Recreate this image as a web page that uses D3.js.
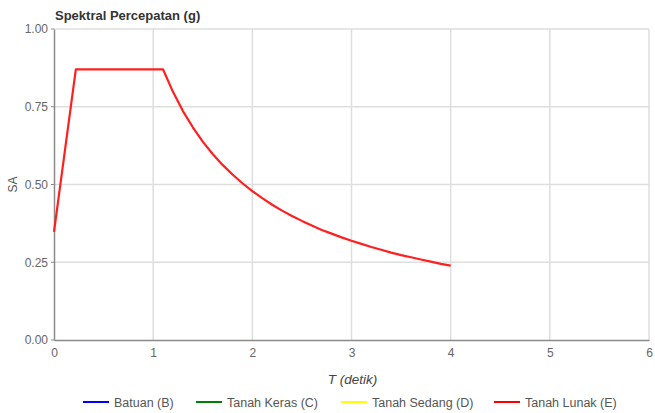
<!DOCTYPE html>
<html>
<head>
<meta charset="utf-8">
<script src="https://cdn.jsdelivr.net/npm/d3@7"></script>
<style>
html,body{margin:0;padding:0;background:#fff;}
svg{display:block;font-family:"Liberation Sans",Arial,sans-serif;}
</style>
</head>
<body>
<svg id="chart" width="655" height="413"></svg>
<script>
const seriesNames = ["Batuan (B)", "Tanah Keras (C)", "Tanah Sedang (D)", "Tanah Lunak (E)"];
const seriesColors = ["#0000ff", "#008000", "#ffff00", "#ff0000"];
// Only Tanah Lunak (E) is drawn in the reference
const periodE = [0, 0.22, 1.1, 1.2, 1.3, 1.4, 1.5, 1.6, 1.7, 1.8, 1.9, 2.0, 2.1, 2.2, 2.3, 2.4, 2.5, 2.6, 2.7, 2.8, 2.9, 3.0, 3.1, 3.2, 3.3, 3.4, 3.5, 3.6, 3.7, 3.8, 3.9, 4.0];
const saE = [0.348, 0.87, 0.87, 0.798, 0.736, 0.684, 0.638, 0.598, 0.563, 0.532, 0.504, 0.479, 0.456, 0.435, 0.416, 0.399, 0.383, 0.368, 0.354, 0.342, 0.330, 0.319, 0.309, 0.299, 0.290, 0.281, 0.273, 0.266, 0.259, 0.252, 0.245, 0.239];
const xTicks = [0, 1, 2, 3, 4, 5, 6];
const yTicks = [0, 0.25, 0.5, 0.75, 1.0];

const svg = d3.select("#chart");
const mLeft = 54, mRight = 649, mTop = 29, mBottom = 340;
const x = d3.scaleLinear().domain([0, 6]).range([mLeft, mRight]);
const y = d3.scaleLinear().domain([0, 1]).range([mBottom, mTop]);

// grid
svg.append("g").selectAll("line").data(xTicks.slice(1)).join("line")
  .attr("x1", d => x(d)).attr("x2", d => x(d)).attr("y1", mTop).attr("y2", mBottom)
  .attr("stroke", "#dedede").attr("stroke-width", 1.5);
svg.append("g").selectAll("line").data(yTicks.slice(1)).join("line")
  .attr("x1", mLeft).attr("x2", mRight).attr("y1", d => y(d)).attr("y2", d => y(d))
  .attr("stroke", "#dedede").attr("stroke-width", 1.5);

// axes
const xAxis = svg.append("g").attr("transform", `translate(0,${mBottom})`)
  .call(d3.axisBottom(x).tickValues(xTicks).tickFormat(d3.format("d")).tickSize(0).tickPadding(8));
const yAxis = svg.append("g").attr("transform", `translate(${mLeft},0)`)
  .call(d3.axisLeft(y).tickValues(yTicks).tickFormat(d3.format(".2f")).tickSize(0).tickPadding(6));
[xAxis, yAxis].forEach(a => {
  a.select(".domain").attr("stroke", "#8a8a8a").attr("stroke-width", 1.5);
  a.selectAll("text").attr("fill", "#666").attr("font-size", 12)
    .attr("font-family", '"Liberation Sans",Arial,sans-serif');
});
// small left tick marks on y axis
svg.append("g").selectAll("line").data(yTicks).join("line")
  .attr("x1", mLeft - 3).attr("x2", mLeft).attr("y1", d => y(d)).attr("y2", d => y(d))
  .attr("stroke", "#8a8a8a");

// line
const line = d3.line().x(d => x(d[0])).y(d => y(d[1]));
svg.append("path").datum(periodE.map((t, i) => [t, saE[i]]))
  .attr("d", line).attr("fill", "none").attr("stroke", "#ff1f1f")
  .attr("stroke-width", 2.2).attr("stroke-linejoin", "round");

// title
svg.append("text").attr("x", 55).attr("y", 20).text("Spektral Percepatan (g)")
  .attr("font-size", 13).attr("font-weight", "bold").attr("fill", "#333");
// y label
svg.append("text").attr("transform", `translate(17,${y(0.5)}) rotate(-90)`)
  .attr("text-anchor", "middle").text("SA").attr("font-size", 12).attr("fill", "#555");
// x label
svg.append("text").attr("x", x(3) + 1).attr("y", 384).attr("text-anchor", "middle")
  .text("T (detik)").attr("font-size", 13.5).attr("font-style", "italic").attr("fill", "#444");

// legend
const legX = [83, 196, 341, 494];
const lg = svg.append("g").selectAll("g").data(seriesNames).join("g")
  .attr("transform", (d, i) => `translate(${legX[i]},402)`);
lg.append("line").attr("x1", 0).attr("x2", 26).attr("y1", 0).attr("y2", 0)
  .attr("stroke", (d, i) => seriesColors[i]).attr("stroke-width", 2);
lg.append("text").attr("x", 31).attr("y", 5).text(d => d)
  .attr("font-size", 12.5).attr("fill", "#555");
</script>
</body>
</html>
